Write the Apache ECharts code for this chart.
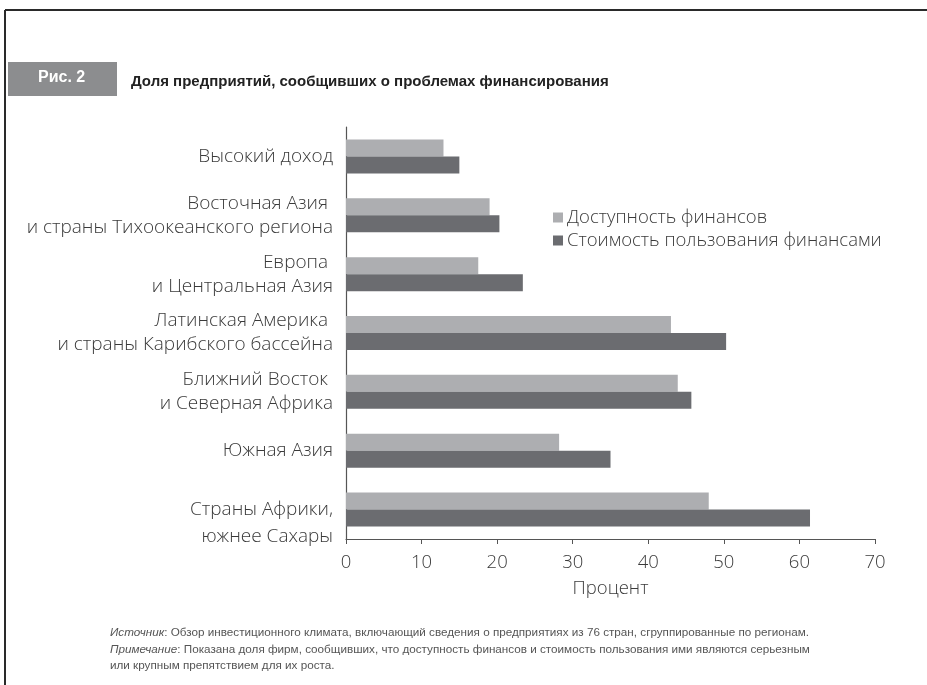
<!DOCTYPE html>
<html><head><meta charset="utf-8">
<script src="https://cdn.jsdelivr.net/npm/echarts@6/dist/echarts.min.js"></script>
<style>html,body{margin:0;padding:0;background:#fff}#c{width:927px;height:685px}</style>
</head><body><div id="c"></div>
<script>
const categories = [
  'Высокий доход',
  'Восточная Азия \nи страны Тихоокеанского региона',
  'Европа \nи Центральная Азия',
  'Латинская Америка \nи страны Карибского бассейна',
  'Ближний Восток \nи Северная Африка',
  'Южная Азия',
  '\nСтраны Африки,\nюжнее Сахары'
];
const accessFinance = [12.9, 19.0, 17.5, 43.0, 43.9, 28.2, 48.0];
const costFinance = [15.0, 20.3, 23.4, 50.3, 45.7, 35.0, 61.4];
const seriesNames = ['Доступность финансов', 'Стоимость пользования финансами'];
const xTicks = [0, 10, 20, 30, 40, 50, 60, 70];

const FONT = '"Open Sans", sans-serif';
const NARROW = '"Liberation Sans Narrow", "Liberation Sans", sans-serif';
const yData = categories.map((c, i) => i === categories.length - 1
  ? { value: c, textStyle: { lineHeight: 27 } } : c);
const chart = echarts.init(document.getElementById('c'));
chart.setOption({
  animation: false,
  grid: { left: 346, right: 52, top: 127, bottom: 146 },
  legend: {
    orient: 'vertical', left: 548, top: 203, itemWidth: 10, itemHeight: 10, itemGap: 4,
    icon: 'rect',
    textStyle: { fontFamily: FONT, fontWeight: 300, fontSize: 18.5, color: '#3a3a3a', padding: [0,0,0,-1] },
    data: seriesNames
  },
  xAxis: {
    type: 'value', min: xTicks[0], max: xTicks[xTicks.length-1], interval: 10,
    name: 'Процент', nameLocation: 'middle', nameGap: 40,
    nameTextStyle: { fontFamily: FONT, fontWeight: 300, fontSize: 18.5, color: '#3a3a3a' },
    axisLine: { show: true, lineStyle: { color: '#555', width: 1.2 } },
    axisTick: { show: true, length: 5, lineStyle: { color: '#555' } },
    axisLabel: { fontFamily: FONT, fontWeight: 300, fontSize: 18.5, color: '#3a3a3a', margin: 14 },
    splitLine: { show: false }
  },
  yAxis: {
    type: 'category', data: yData, inverse: true,
    axisLine: { show: true, lineStyle: { color: '#555', width: 1.2 } },
    axisTick: { show: false },
    axisLabel: { fontFamily: FONT, fontWeight: 300, fontSize: 19, color: '#3a3a3a', margin: 13, lineHeight: 24, align: 'right' }
  },
  series: [
    { name: seriesNames[0], type: 'bar', data: accessFinance, barWidth: 17, barGap: '0%', itemStyle: { color: '#adaeb1' } },
    { name: seriesNames[1], type: 'bar', data: costFinance, barWidth: 17, barGap: '0%', itemStyle: { color: '#6b6c70' } }
  ],
  graphic: [
    { type: 'line', shape: { x1: 5, y1: 10, x2: 927, y2: 10 }, style: { stroke: '#2a2a2a', lineWidth: 2 } },
    { type: 'line', shape: { x1: 5, y1: 10, x2: 5, y2: 685 }, style: { stroke: '#2a2a2a', lineWidth: 2 } },
    { type: 'rect', shape: { x: 8, y: 62, width: 109, height: 34 }, style: { fill: '#8c8d8f' } },
    { type: 'text', left: 38, top: 70, style: { text: 'Рис. 2', fill: '#fff', font: 'bold 16px ' + NARROW } },
    { type: 'text', left: 131, top: 74, style: { text: 'Доля предприятий, сообщивших о проблемах финансирования', fill: '#222', font: 'bold 15px ' + NARROW } },
    { type: 'text', left: 110, top: 627, style: {
      text: '{i|Источник}{n|: Обзор инвестиционного климата, включающий сведения о предприятиях из 76 стран, сгруппированные по регионам.}\n{i|Примечание}{n|: Показана доля фирм, сообщивших, что доступность финансов и стоимость пользования ими являются серьезным}\n{n|или крупным препятствием для их роста.}',
      rich: {
        i: { fontFamily: NARROW, fontStyle: 'italic', fontSize: 11.7, fill: '#555', lineHeight: 16.5 },
        n: { fontFamily: NARROW, fontSize: 11.7, fill: '#555', lineHeight: 16.5 }
      }
    } }
  ]
});
</script></body></html>
